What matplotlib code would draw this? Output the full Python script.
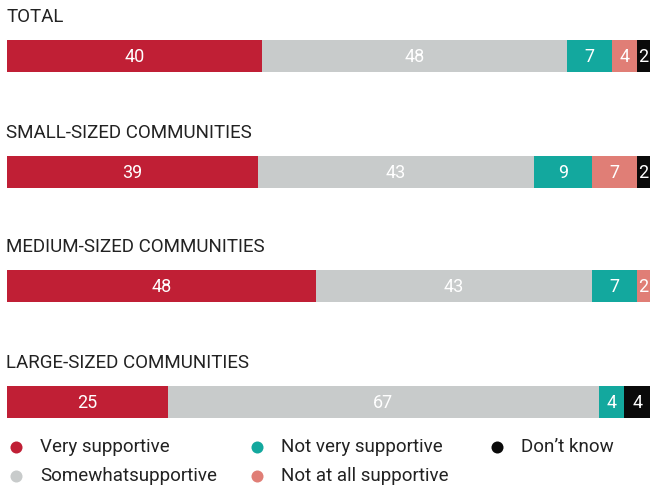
import matplotlib.pyplot as plt

# ***** Data *****
groups = ['TOTAL', 'SMALL-SIZED COMMUNITIES', 'MEDIUM-SIZED COMMUNITIES', 'LARGE-SIZED COMMUNITIES']
series = ['Very supportive', 'Somewhatsupportive', 'Not very supportive', 'Not at all supportive', "Don\u2019t know"]
very = [40, 39, 48, 25]
somewhat = [48, 43, 43, 67]
not_very = [7, 9, 7, 4]
not_at_all = [4, 7, 2, 0]
dont_know = [2, 2, 0, 4]

colors = ['#C01F35', '#C8CBCB', '#13A89E', '#E07E76', '#0A0A0A']
values = [very, somewhat, not_very, not_at_all, dont_know]

plt.rcParams['font.family'] = ['Roboto', 'DejaVu Sans']

W, H = 650, 487
fig = plt.figure(figsize=(W / 100, H / 100), dpi=100)

# bars axes, y in pixel-like units (top = 0)
x0 = 7 / W
ax = fig.add_axes([x0, 0, 1 - x0, 1])
ax.set_xlim(0, 100)
ax.set_ylim(H, 0)
ax.axis('off')

bar_y = [56, 171.5, 286, 402]
bar_h = 32

for i, g in enumerate(groups):
    # each bar fills the full width (rounded values may not add to 100)
    total = sum(vals[i] for vals in values)
    left = 0
    for vals, c in zip(values, colors):
        v = vals[i]
        w = v * 100 / total
        if v > 0:
            ax.barh(bar_y[i], w, left=left, height=bar_h, color=c, linewidth=0)
            ax.text(left + w / 2, bar_y[i] + 1, str(v), color='white', fontsize=13,
                    ha='center', va='center', clip_on=True)
        left += w
    ax.text(-0.15, bar_y[i] - 39, g, color='#222222', fontsize=13.5, ha='left', va='center')

# **** Legend ****
lg = fig.add_axes([0, 0, 1, 1])
lg.set_xlim(0, W)
lg.set_ylim(H, 0)
lg.axis('off')
leg_pos = [(16, 447), (16, 476), (257, 447), (257, 476), (497, 447)]
for (lx, ly), name, c in zip(leg_pos, series, colors):
    lg.scatter([lx], [ly], s=75, color=c, linewidth=0)
    lg.text(lx + 24, ly, name, color='#222222', fontsize=13.5, ha='left', va='center')

fig.savefig('out.png', dpi=100)
